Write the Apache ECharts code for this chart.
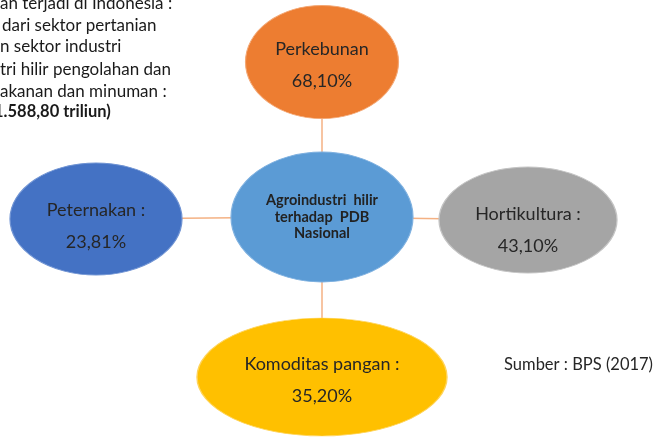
<!DOCTYPE html>
<html><head><meta charset="utf-8">
<script src="https://cdn.jsdelivr.net/npm/echarts@6/dist/echarts.min.js"></script>
<style>html,body{margin:0;padding:0;background:#fff}#c{width:656px;height:437px}</style>
</head><body><div id="c"></div>
<script>
// ---- data ----
const centerTitle = 'Agroindustri  hilir\nterhadap  PDB\nNasional';
const categories = ['Perkebunan', 'Hortikultura :', 'Komoditas pangan :', 'Peternakan :'];
const shares = [68.10, 43.10, 35.20, 23.81];
const noteLines = ['an terjadi di Indonesia :', 'dari sektor pertanian', 'n sektor industri', 'tri hilir pengolahan dan', 'akanan dan minuman :', '1.588,80 triliun)'];
const sourceText = 'Sumber : BPS (2017)';

// ---- layout / style (not data) ----
const centerLayout = { pos: [322, 217], size: [182, 130], color: '#5B9BD5', border: '#7FB1E0' };
const nodeLayout = [
  { pos: [322, 62],  size: [153, 113], color: '#ED7D31', border: '#F3A774', off: [0, 3] },
  { pos: [528, 220], size: [178, 106], color: '#A5A5A5', border: '#C4C4C4', off: [0, 10] },
  { pos: [322, 377], size: [250, 118], color: '#FFC000', border: '#FFD45A', off: [0, 3] },
  { pos: [96, 219],  size: [172, 112], color: '#4472C4', border: '#6F93D3', off: [0, 7] }
];
const noteLeft = [0, 2, 0, 0, 0, -6];
const noteY = [4, 25.5, 47, 69.5, 91.5, 112];
const FONT = 'Lato, "Liberation Sans", sans-serif';
const fmt = v => v.toFixed(2).replace('.', ',') + '%';

const nodes = [{
  name: 'center', value: centerLayout.pos, symbolSize: centerLayout.size,
  itemStyle: { color: centerLayout.color, borderColor: centerLayout.border, borderWidth: 1 },
  label: { show: true, formatter: centerTitle, fontFamily: FONT, fontWeight: 'bold', fontSize: 14.5,
           color: '#222', lineHeight: 16.5, align: 'center', offset: [0, 0] }
}];
categories.forEach((c, i) => {
  const L = nodeLayout[i];
  nodes.push({
    name: c, value: L.pos, symbolSize: L.size,
    itemStyle: { color: L.color, borderColor: L.border, borderWidth: 1 },
    label: { show: true, formatter: c + '\n' + fmt(shares[i]), fontFamily: FONT, fontSize: 18,
             color: '#262626', lineHeight: 32, align: 'center', offset: L.off }
  });
});
const links = categories.map(c => ({ source: 'center', target: c }));

const chart = echarts.init(document.getElementById('c'), null, { renderer: 'canvas' });
chart.setOption({
  animation: false,
  grid: { left: 0, right: 0, top: 0, bottom: 0 },
  xAxis: { type: 'value', min: 0, max: 656, show: false },
  yAxis: { type: 'value', min: 0, max: 437, inverse: true, show: false },
  series: [{
    type: 'graph', coordinateSystem: 'cartesian2d', layout: 'none',
    symbol: 'circle', data: nodes, links: links,
    lineStyle: { color: '#F4B183', width: 1.5, opacity: 1 },
    emphasis: { disabled: true }
  }],
  graphic: [
    ...noteLines.map((t, i) => ({
      type: 'text', x: noteLeft[i], y: noteY[i],
      style: { text: t, font: (i === 5 ? 'bold 16.5px ' : '17px ') + FONT, fill: '#1a1a1a',
               align: 'left', verticalAlign: 'middle' }
    })),
    { type: 'text', x: 653, y: 365, style: { text: sourceText, font: '16.5px ' + FONT, fill: '#262626',
      align: 'right', verticalAlign: 'middle' } }
  ]
});
</script></body></html>
